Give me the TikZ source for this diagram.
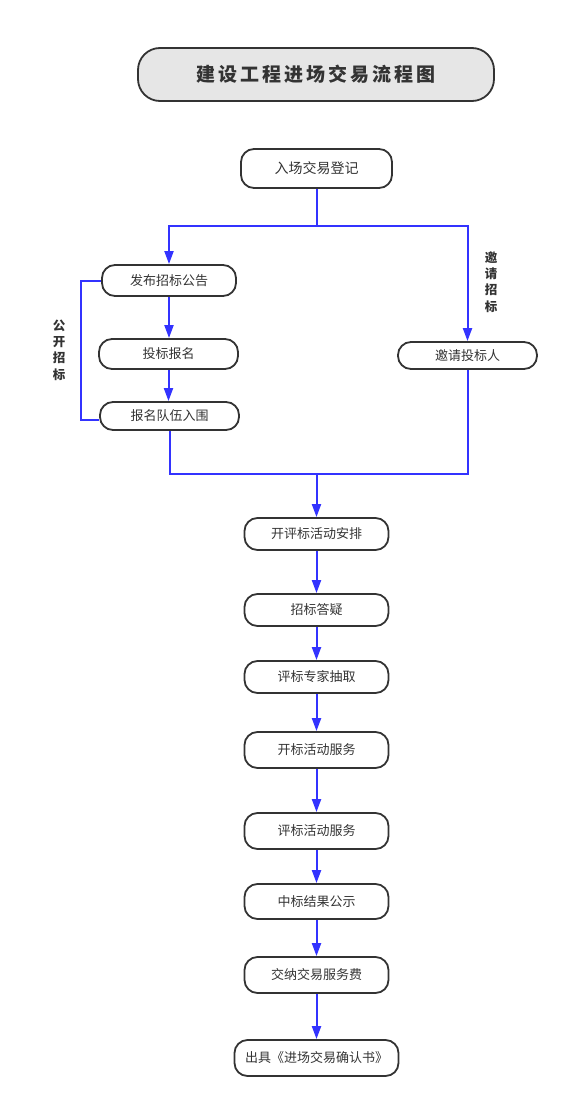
\documentclass[tikz,border=0pt]{standalone}
\usepackage{fontspec}
\newfontfamily\cjk{Noto Sans CJK SC}
\usetikzlibrary{arrows.meta}
\definecolor{flowc}{HTML}{3333FF}
\definecolor{boxc}{HTML}{333333}
\definecolor{txtc}{HTML}{333333}
\definecolor{titlefill}{HTML}{E6E6E6}
\tikzset{
  box/.style={draw=boxc, line width=1.8pt, rounded corners=13pt, inner sep=0pt,
    text=txtc, font=\cjk\fontsize{13}{15}\selectfont},
  bigbox/.style={box, font=\cjk\fontsize{14}{16}\selectfont},
  titlebox/.style={draw=boxc, line width=1.8pt, rounded corners=22pt, inner sep=0pt,
    fill=titlefill, text=txtc, font=\cjk\bfseries\fontsize{19}{22}\selectfont},
  vlabel/.style={inner sep=0pt, align=center, text=txtc,
    font=\cjk\bfseries\fontsize{12.5}{16.3}\selectfont},
  connline/.style={draw=flowc, line width=2pt},
  connarrow/.style={draw=flowc, line width=2pt, -{Triangle[width=9pt,length=13pt]}},
}
\begin{document}
\begin{tikzpicture}[x=1pt,y=-1pt]
\useasboundingbox (0,0) rectangle (569,1108);
\node[titlebox, minimum width=356pt, minimum height=53pt] (title) at (316,74.5)
  {建\hspace{3pt}设\hspace{3pt}工\hspace{3pt}程\hspace{3pt}进\hspace{3pt}场\hspace{3pt}交\hspace{3pt}易\hspace{3pt}流\hspace{3pt}程\hspace{3pt}图};
\node[bigbox, minimum width=151pt, minimum height=39pt] (reg) at (316.5,168.5) {入场交易登记};
\node[box, minimum width=134pt, minimum height=31pt] (pub) at (169,280.5) {发布招标公告};
\node[box, minimum width=139pt, minimum height=30pt] (sign) at (168.5,354) {投标报名};
\node[box, minimum width=139pt, minimum height=28pt] (short) at (169.5,416) {报名队伍入围};
\node[box, minimum width=139pt, minimum height=27pt] (inv) at (467.5,355.5) {邀请投标人};
\node[box, minimum width=144pt, minimum height=32pt] (s1) at (316.5,534) {开评标活动安排};
\node[box, minimum width=144pt, minimum height=32pt] (s2) at (316.5,610) {招标答疑};
\node[box, minimum width=144pt, minimum height=32pt] (s3) at (316.5,677) {评标专家抽取};
\node[box, minimum width=144pt, minimum height=36pt] (s4) at (316.5,750) {开标活动服务};
\node[box, minimum width=144pt, minimum height=36pt] (s5) at (316.5,831) {评标活动服务};
\node[box, minimum width=144pt, minimum height=35pt] (s6) at (316.5,901.5) {中标结果公示};
\node[box, minimum width=144pt, minimum height=36pt] (s7) at (316.5,975) {交纳交易服务费};
\node[box, minimum width=164pt, minimum height=36pt] (s8) at (316.5,1058) {出具《进场交易确认书》};
\node[vlabel] (lab1) at (59,350) {公\\开\\招\\标};
\node[vlabel] (lab2) at (491,282) {邀\\请\\招\\标};
\coordinate (j1) at (316.5,226);
\coordinate (j2) at (316.5,473.5);
\draw[connline] (reg.south) -- (j1);
\draw[connarrow] (j1) -| (pub.north);
\draw[connarrow] (j1) -| (inv.north);
\draw[connarrow] (pub.south) -- (pub.south |- sign.north);
\draw[connarrow] (sign.south) -- (sign.south |- short.north);
\draw[connline] (pub.west) -- ++(-20,0) |- ([yshift=-4pt]short.west);
\draw[connline] (short.south) |- (j2);
\draw[connline] (inv.south) |- (j2);
\draw[connarrow] (j2) -- (s1.north);
\draw[connarrow] (s1) -- (s2);
\draw[connarrow] (s2) -- (s3);
\draw[connarrow] (s3) -- (s4);
\draw[connarrow] (s4) -- (s5);
\draw[connarrow] (s5) -- (s6);
\draw[connarrow] (s6) -- (s7);
\draw[connarrow] (s7) -- (s8);
\end{tikzpicture}
\end{document}
